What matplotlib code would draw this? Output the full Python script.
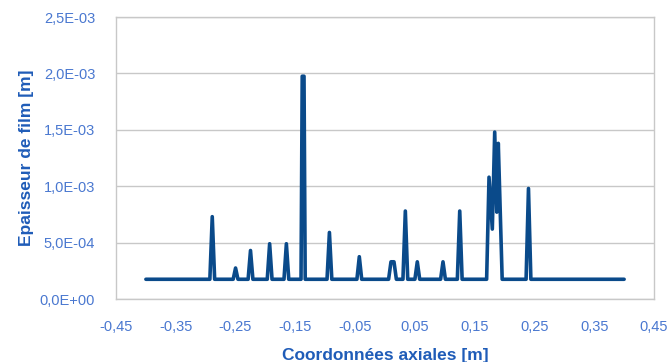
import matplotlib
matplotlib.use("Agg")
import matplotlib.pyplot as plt
import numpy as np

plt.rcParams['font.family'] = ['Liberation Sans', 'DejaVu Sans']

# Axial coordinate [m] and film thickness [m]
x_coord = [-0.400,
           -0.293, -0.289, -0.285,
           -0.254, -0.250, -0.246,
           -0.229, -0.225, -0.221,
           -0.197, -0.193, -0.189,
           -0.169, -0.165, -0.161,
           -0.1405, -0.1385, -0.1355, -0.1335,
           -0.097, -0.093, -0.089,
           -0.047, -0.043, -0.039,
           0.006, 0.010, 0.015, 0.019,
           0.030, 0.034, 0.038,
           0.050, 0.054, 0.058,
           0.093, 0.097, 0.101,
           0.121, 0.125, 0.129,
           0.170, 0.174, 0.1795, 0.1835, 0.187, 0.1895, 0.196,
           0.236, 0.240, 0.244,
           0.400]
thickness = [1.75e-4,
             1.75e-4, 7.3e-4, 1.75e-4,
             1.75e-4, 2.75e-4, 1.75e-4,
             1.75e-4, 4.3e-4, 1.75e-4,
             1.75e-4, 4.9e-4, 1.75e-4,
             1.75e-4, 4.9e-4, 1.75e-4,
             1.75e-4, 1.975e-3, 1.975e-3, 1.75e-4,
             1.75e-4, 5.9e-4, 1.75e-4,
             1.75e-4, 3.75e-4, 1.75e-4,
             1.75e-4, 3.3e-4, 3.3e-4, 1.75e-4,
             1.75e-4, 7.8e-4, 1.75e-4,
             1.75e-4, 3.3e-4, 1.75e-4,
             1.75e-4, 3.3e-4, 1.75e-4,
             1.75e-4, 7.8e-4, 1.75e-4,
             1.75e-4, 1.08e-3, 6.2e-4, 1.48e-3, 7.7e-4, 1.38e-3, 1.75e-4,
             1.75e-4, 9.8e-4, 1.75e-4,
             1.75e-4]

x_ticks = [-0.45, -0.35, -0.25, -0.15, -0.05, 0.05, 0.15, 0.25, 0.35, 0.45]
y_ticks = [0.0, 0.5e-3, 1.0e-3, 1.5e-3, 2.0e-3, 2.5e-3]

line_color = '#0A4A8A'
tick_color = '#4A78D0'
title_color = '#1F5CB8'
grid_color = '#C8C8C8'

fig = plt.figure(figsize=(6.69, 3.62), dpi=100)
ax = fig.add_axes([0.1734, 0.174, 0.8042, 0.779])

ax.plot(x_coord, thickness, color=line_color, linewidth=2.6,
        solid_joinstyle='round', solid_capstyle='round')

ax.set_xlim(-0.45, 0.45)
ax.set_ylim(0, 2.5e-3)
ax.set_xticks(x_ticks)
ax.set_yticks(y_ticks)
ax.set_xticklabels([f"{v:.2f}".replace('.', ',') for v in x_ticks])
ax.set_yticklabels([f"{v:.1E}".replace('.', ',') for v in y_ticks])

ax.grid(axis='y', color=grid_color, linewidth=1.0)
ax.set_axisbelow(True)
for s in ax.spines.values():
    s.set_color(grid_color)
    s.set_linewidth(1.0)

ax.tick_params(axis='both', length=0, labelsize=10.5, labelcolor=tick_color)
ax.tick_params(axis='x', pad=15)
ax.tick_params(axis='y', pad=15)

ax.set_xlabel('Coordonnées axiales [m]', fontsize=12.5, fontweight='bold',
              color=title_color, labelpad=10)
ax.set_ylabel('Epaisseur de film [m]', fontsize=12.5, fontweight='bold',
              color=title_color, labelpad=4)

fig.savefig('out.png', dpi=100)
